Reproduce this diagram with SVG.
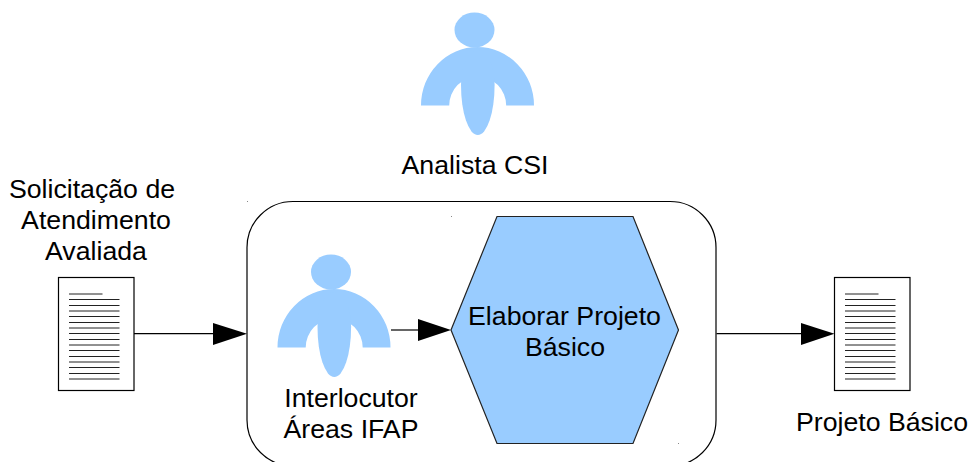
<svg xmlns="http://www.w3.org/2000/svg" width="970" height="462" viewBox="0 0 970 462">
<style>
text{font-family:"Liberation Sans",Arial,sans-serif;font-size:26.7px;fill:#000;text-anchor:middle}
.fig{fill:#99ccff}
.ln{stroke:#000;stroke-width:1.2;fill:none}
.doc{fill:#fff;stroke:#000;stroke-width:1.2}
.tl{stroke:#222;stroke-width:1}
.ah{fill:#000;stroke:none}
.sp{fill:#888}
</style>
<defs>
<g id="person">
<ellipse class="fig" cx="331" cy="272" rx="20" ry="17.5"/>
<path class="fig" d="M277.5 347.5A56.5 58.5 0 0 1 390.500 347.500H362.700A28.500 29 0 0 0 305.700 347.500Z"/>
<path class="fig" d="M317.500 327A16.800 50 0 0 0 351.100 327A16.800 35 0 0 0 317.500 327Z"/>
</g>
<g id="docshape">
<rect class="doc" x="0" y="0" width="75.500" height="113"/>
<path class="tl" d="M10.500 16.500H44M10.500 22H61M10.500 28H61M10.500 33.500H61M10.500 39H61M10.500 45H61M10.500 50.500H61M10.500 56H61M10.500 62H61M10.500 67.500H61M10.500 73H61M10.500 79H61M10.500 84.500H61M10.500 90H61M10.500 96H61M10.500 101.500H61"/>
</g>
</defs>
<g id="container"><rect class="ln" x="247" y="201.500" width="469" height="264.500" rx="46" ry="46"/></g>
<g id="analista">
<use href="#person" x="143.500" y="-242"/>
<text x="475" y="174">Analista CSI</text>
</g>
<g id="solicitacao">
<text x="92" y="197.500">Solicitação de</text>
<text x="96" y="229">Atendimento</text>
<text x="96" y="260">Avaliada</text>
<use href="#docshape" x="58.500" y="277.500"/>
</g>
<g id="interlocutor">
<use href="#person"/>
<text x="351" y="407">Interlocutor</text>
<text x="351" y="438">Áreas IFAP</text>
</g>
<g id="elaborar">
<polygon points="497,216.500 633,216.500 678.500,330 633,443.500 497,443.500 451,330" fill="#99ccff" stroke="#222" stroke-width="1.2"/>
<text x="564.500" y="325">Elaborar Projeto</text>
<text x="565" y="355.500">Básico</text>
</g>
<g id="projeto">
<use href="#docshape" x="834.500" y="277.500"/>
<text x="882" y="430.500">Projeto Básico</text>
</g>
<g id="connectors">
<path class="ln" d="M134 333.700H214"/><polygon class="ah" points="213,323 247,333.700 213,345"/>
<path class="ln" d="M391 330H419"/><polygon class="ah" points="418,319 451,330 418,341"/>
<path class="ln" d="M716.500 333.700H802"/><polygon class="ah" points="801,323 834.500,333.700 801,345"/>
</g>
<rect class="sp" x="247" y="201" width="1" height="1"/>
<rect class="sp" x="451" y="216" width="1" height="1"/>
<rect class="sp" x="678" y="443" width="1" height="1"/>
</svg>
